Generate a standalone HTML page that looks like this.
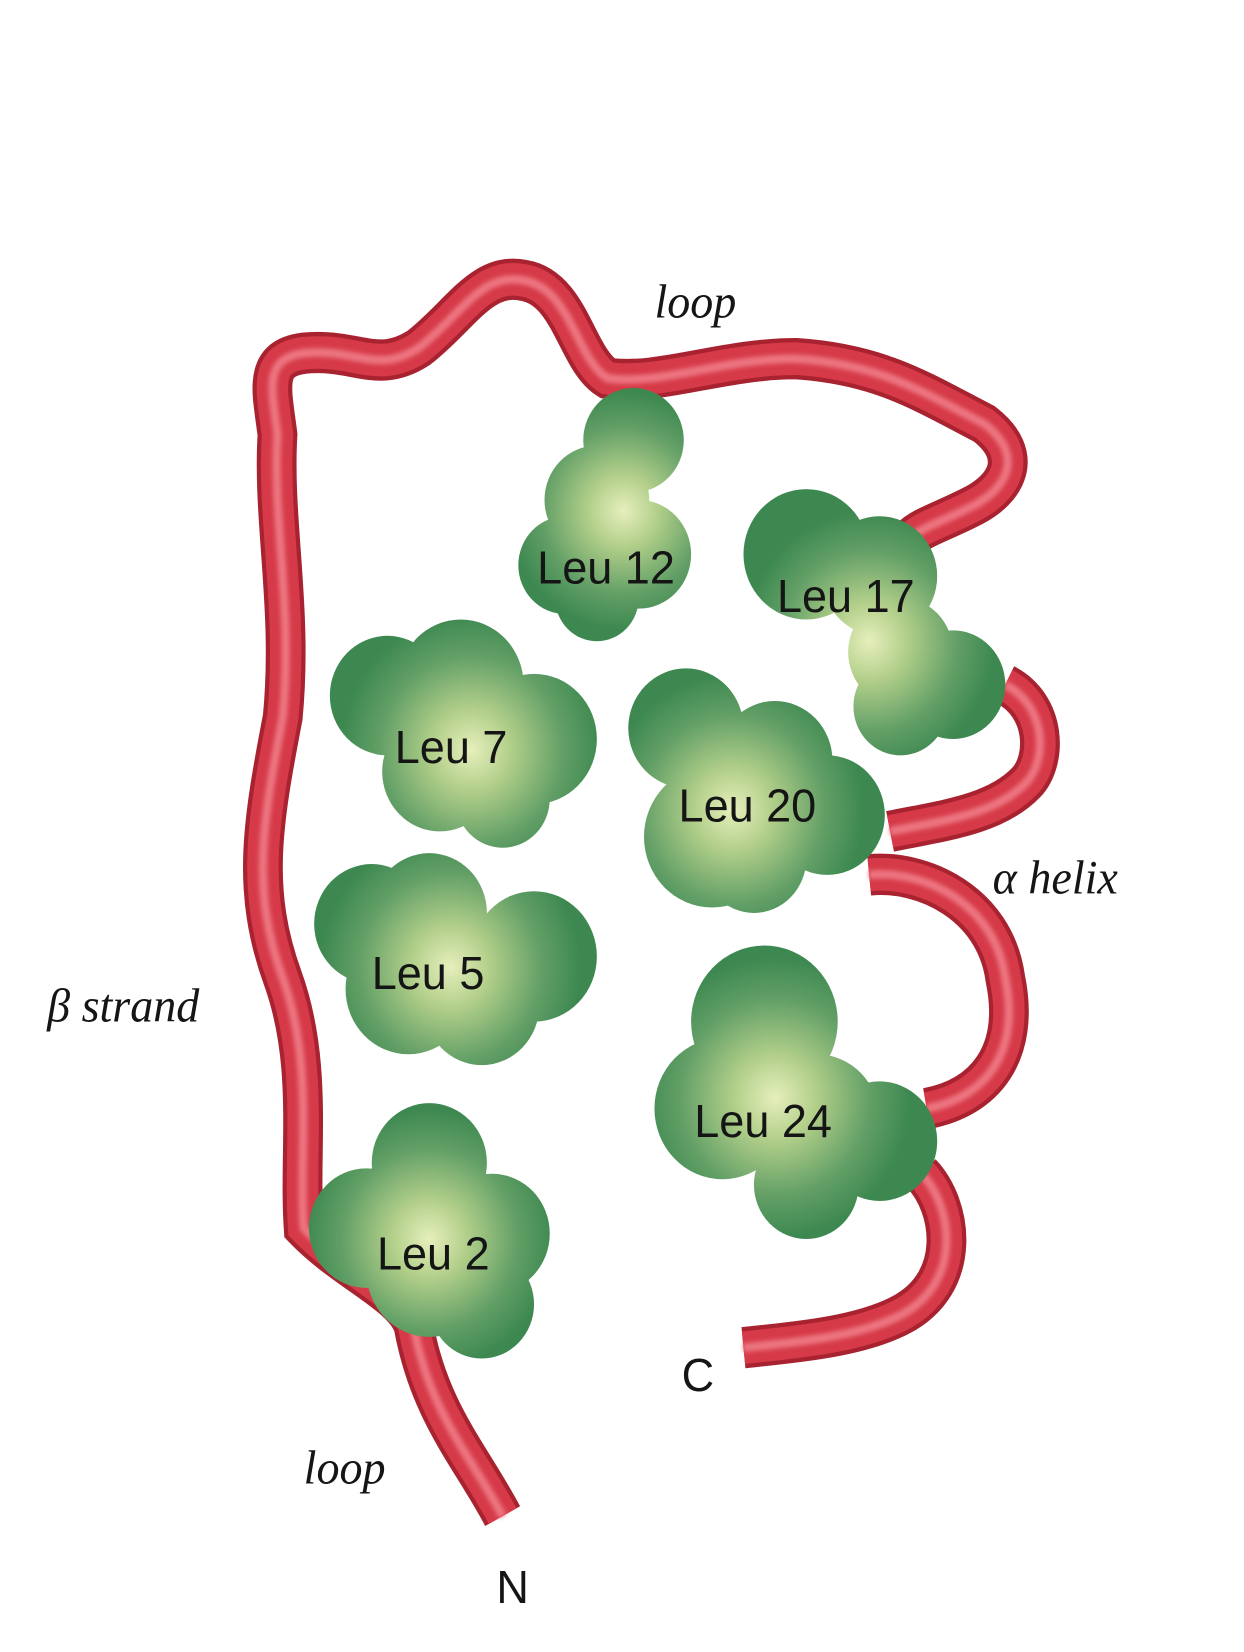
<!DOCTYPE html>
<html><head><meta charset="utf-8"><style>
html,body{margin:0;padding:0;background:#fff;}
svg{display:block;}
text{font-family:"Liberation Sans",sans-serif;fill:#151515;}
.leu{font-size:43px;}
.it{font-family:"Liberation Serif",serif;font-style:italic;font-size:44px;}
</style></head><body>
<svg width="1244" height="1652" viewBox="0 0 1188 1520" preserveAspectRatio="none" xmlns="http://www.w3.org/2000/svg">
<defs>
<filter id="b2" x="-20%" y="-20%" width="140%" height="140%"><feGaussianBlur stdDeviation="2"/></filter>
<g id="tube" fill="none">
<path d="M480 1395 C450 1340 410 1300 395 1220 C385 1190 330 1170 290 1130 C285 1060 300 980 270 900 C240 820 250 760 270 660 C280 560 260 480 265 400 C260 360 250 330 290 325 C340 320 360 345 400 320 C440 290 460 250 500 258 C545 265 550 330 580 348 C630 355 690 330 760 330 C840 335 880 360 940 390 C980 420 960 450 930 465 C900 480 880 485 870 495"/>
<path d="M960 630 C1000 650 1000 700 980 720 C950 750 900 755 850 765"/>
<path d="M830 805 C880 800 950 830 960 900 C975 970 940 1010 885 1020"/>
<path d="M880 1080 C910 1110 920 1180 860 1210 C820 1230 760 1235 710 1240"/>
</g>
<linearGradient id="s"><stop offset="0" stop-color="#e6efbc"/><stop offset="0.3" stop-color="#b2cf8a"/><stop offset="0.7" stop-color="#629f66"/><stop offset="1" stop-color="#3c8850"/></linearGradient>
<radialGradient id="g1" href="#s" gradientUnits="userSpaceOnUse" cx="595" cy="470" r="110"/>
<radialGradient id="g2" href="#s" gradientUnits="userSpaceOnUse" cx="830" cy="590" r="120"/>
<radialGradient id="g3" href="#s" gradientUnits="userSpaceOnUse" cx="450" cy="690" r="125"/>
<radialGradient id="g4" href="#s" gradientUnits="userSpaceOnUse" cx="700" cy="745" r="125"/>
<radialGradient id="g5" href="#s" gradientUnits="userSpaceOnUse" cx="430" cy="890" r="125"/>
<radialGradient id="g6" href="#s" gradientUnits="userSpaceOnUse" cx="740" cy="1010" r="130"/>
<radialGradient id="g7" href="#s" gradientUnits="userSpaceOnUse" cx="410" cy="1140" r="120"/>
</defs>
<use href="#tube" stroke="#a8222f" stroke-width="38"/>
<use href="#tube" stroke="#d63a48" stroke-width="30"/>
<use href="#tube" stroke="#ec7580" stroke-width="8" filter="url(#b2)"/>
<g fill="url(#g1)"><circle cx="605" cy="405" r="48"/><circle cx="570" cy="460" r="50"/><circle cx="540" cy="520" r="45"/><circle cx="610" cy="510" r="50"/><circle cx="570" cy="550" r="40"/></g>
<g fill="url(#g2)"><circle cx="770" cy="510" r="60"/><circle cx="840" cy="530" r="55"/><circle cx="860" cy="600" r="50"/><circle cx="910" cy="630" r="50"/><circle cx="860" cy="650" r="45"/></g>
<g fill="url(#g3)"><circle cx="370" cy="640" r="55"/><circle cx="440" cy="630" r="60"/><circle cx="510" cy="680" r="60"/><circle cx="420" cy="710" r="55"/><circle cx="480" cy="735" r="45"/></g>
<g fill="url(#g4)"><circle cx="655" cy="670" r="55"/><circle cx="740" cy="700" r="55"/><circle cx="790" cy="750" r="55"/><circle cx="680" cy="770" r="65"/><circle cx="720" cy="790" r="50"/></g>
<g fill="url(#g5)"><circle cx="355" cy="850" r="55"/><circle cx="410" cy="840" r="55"/><circle cx="510" cy="880" r="60"/><circle cx="390" cy="910" r="60"/><circle cx="460" cy="925" r="55"/></g>
<g fill="url(#g6)"><circle cx="730" cy="940" r="70"/><circle cx="690" cy="1020" r="65"/><circle cx="780" cy="1030" r="60"/><circle cx="840" cy="1050" r="55"/><circle cx="770" cy="1090" r="50"/></g>
<g fill="url(#g7)"><circle cx="410" cy="1070" r="55"/><circle cx="350" cy="1130" r="55"/><circle cx="470" cy="1135" r="55"/><circle cx="410" cy="1170" r="60"/><circle cx="460" cy="1200" r="50"/></g>
<text class="leu" x="513" y="537">Leu 12</text>
<text class="leu" x="742" y="563">Leu 17</text>
<text class="leu" x="377" y="702">Leu 7</text>
<text class="leu" x="648" y="756">Leu 20</text>
<text class="leu" x="355" y="910">Leu 5</text>
<text class="leu" x="663" y="1046">Leu 24</text>
<text class="leu" x="360" y="1168">Leu 2</text>
<text class="it" x="625" y="292">loop</text>
<text class="it" x="948" y="822">α helix</text>
<text class="it" x="45" y="940">β strand</text>
<text class="it" x="290" y="1365">loop</text>
<text class="leu" x="651" y="1280">C</text>
<text class="leu" x="474" y="1475">N</text>
</svg>
</body></html>
